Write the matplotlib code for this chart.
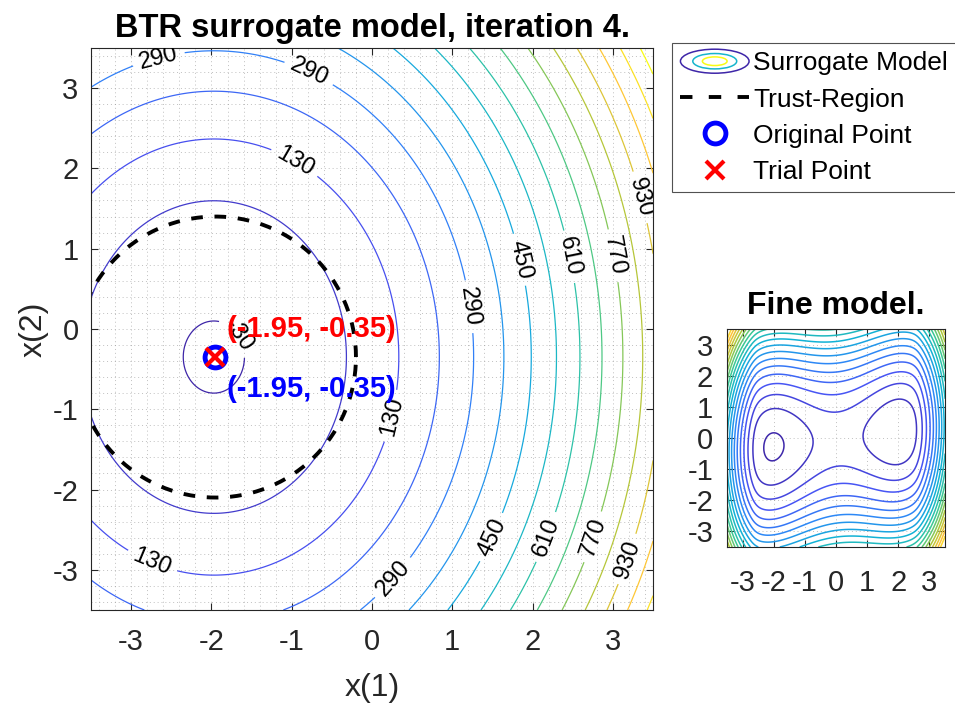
import numpy as np
import matplotlib
matplotlib.use("Agg")
import matplotlib.pyplot as plt
from matplotlib.colors import LinearSegmentedColormap, Normalize
from matplotlib.legend_handler import HandlerBase
from matplotlib.patches import Ellipse
from matplotlib.lines import Line2D
from matplotlib.ticker import MultipleLocator

plt.rcParams["font.family"] = ["Liberation Sans", "DejaVu Sans"]
plt.rcParams["axes.unicode_minus"] = False

# ---------------- data ----------------
axis_lim = (-3.5, 3.5)
tick_values = [-3, -2, -1, 0, 1, 2, 3]
tick_labels = ["-3", "-2", "-1", "0", "1", "2", "3"]

# quadratic surrogate model: f = f_min + cx*(x-x0)^2 + cy*(y-y0)^2
model_center = (-1.97, -0.35)
model_min = -34.5
model_curvature = (31.0, 22.3)
surrogate_levels = np.arange(-30, 1171, 80)
labelled_levels = surrogate_levels[::2]
plain_levels = surrogate_levels[1::2]
label_spots = [(-2.66, 3.38), (-0.79, 3.18), (-0.96, 2.08), (3.38, 1.65),
               (1.87, 0.87), (2.46, 0.90), (3.05, 0.92), (1.23, 0.28),
               (-1.72, -0.11), (0.27, -1.09), (1.50, -2.60), (2.19, -2.60),
               (2.78, -2.60), (3.22, -2.88), (-2.73, -2.88), (0.24, -3.08)]

trust_center = (-1.95, -0.35)
trust_radius = 1.75
original_point = (-1.95, -0.35)
trial_point = (-1.95, -0.35)

# fine model: double well in x(1), quadratic valley in x(2)
fine_well_k = 0.115
fine_tilt = 0.1
fine_ramp_start = 2.6
fine_ramp_slope = 4.5
fine_ramp_soft = 0.08
fine_valley_slope = 0.12
fine_valley_offset = -0.04
fine_levels = np.arange(0.2, 26.0, 1.3)

legend_labels = ["Surrogate Model", "Trust-Region", "Original Point", "Trial Point"]

# ---------------- colours ----------------
parula_anchors = [(0.2422, 0.1504, 0.6603), (0.2810, 0.3228, 0.9579),
                  (0.1786, 0.5289, 0.9682), (0.0689, 0.6948, 0.8394),
                  (0.2161, 0.7843, 0.5923), (0.6720, 0.7793, 0.2227),
                  (0.9970, 0.7659, 0.2199), (0.9769, 0.9839, 0.0805)]
parula = LinearSegmentedColormap.from_list("parula", parula_anchors)
axis_grey = (0.15, 0.15, 0.15)
dash_style = (0, (3.0, 3.0))
legend_dash = (0, (3.2, 4.2))

fig = plt.figure(figsize=(9.55, 7.05), dpi=100)
ax = fig.add_axes([0.0953, 0.1348, 0.5885, 0.7972])
axf = fig.add_axes([0.7613, 0.2241, 0.2283, 0.3092])


def style_axes(a, labelsize):
    a.set_xlim(*axis_lim)
    a.set_ylim(*axis_lim)
    a.set_xticks(tick_values)
    a.set_yticks(tick_values)
    a.set_xticklabels(tick_labels)
    a.set_yticklabels(tick_labels)
    a.tick_params(which="major", direction="in", length=5, width=0.8,
                  top=True, right=True, labelsize=labelsize,
                  color=axis_grey, labelcolor=axis_grey)
    a.tick_params(axis="x", pad=13)
    a.tick_params(axis="y", pad=9)
    for s in a.spines.values():
        s.set_color(axis_grey)
        s.set_linewidth(0.8)
    a.set_axisbelow(True)


# ---------------- surrogate model ----------------
g = np.linspace(axis_lim[0], axis_lim[1], 401)
X, Y = np.meshgrid(g, g)
Z = (model_min + model_curvature[0] * (X - model_center[0]) ** 2
     + model_curvature[1] * (Y - model_center[1]) ** 2)

style_axes(ax, 21)
ax.xaxis.set_minor_locator(MultipleLocator(0.2))
ax.yaxis.set_minor_locator(MultipleLocator(0.2))
ax.tick_params(which="minor", length=0)
ax.grid(True, which="both", linestyle=(0, (1, 3)), color="0.55",
        linewidth=0.7, alpha=0.55)

level_norm = Normalize(surrogate_levels.min(), surrogate_levels.max())
ax.contour(X, Y, Z, levels=plain_levels, cmap=parula, norm=level_norm,
           linewidths=0.9)
cs = ax.contour(X, Y, Z, levels=labelled_levels, cmap=parula, norm=level_norm,
                linewidths=0.9)
ax.clabel(cs, manual=label_spots, fontsize=17, inline=True,
          inline_spacing=7, fmt="%d", colors="k")

t = np.linspace(0, 2 * np.pi, 400)
ax.plot(trust_center[0] + trust_radius * np.cos(t),
        trust_center[1] + trust_radius * np.sin(t),
        color="k", linestyle=dash_style, linewidth=2.8)

ax.plot(*original_point, marker="o", linestyle="none", mfc="none", mec="b",
        ms=15, mew=3.5, zorder=5)
ax.plot(*trial_point, marker="x", linestyle="none", color="r",
        ms=13, mew=3, zorder=6)

ax.text(trial_point[0] + 0.14, trial_point[1] + 0.35,
        f"({trial_point[0]:.2f}, {trial_point[1]:.2f})", color="r",
        fontsize=21, fontweight="bold", ha="left", va="center", zorder=7)
ax.text(original_point[0] + 0.14, original_point[1] - 0.40,
        f"({original_point[0]:.2f}, {original_point[1]:.2f})", color="b",
        fontsize=21, fontweight="bold", ha="left", va="center", zorder=7)

ax.set_title("BTR surrogate model, iteration 4.", fontsize=23.5,
             fontweight="bold", pad=8)
ax.set_xlabel("x(1)", fontsize=23, color=axis_grey, labelpad=12)
ax.set_ylabel("x(2)", fontsize=23, color=axis_grey, labelpad=3)

# ---------------- fine model ----------------
gf = np.linspace(axis_lim[0], axis_lim[1], 301)
XF, YF = np.meshgrid(gf, gf)
ramp = fine_ramp_slope * fine_ramp_soft * np.log1p(
    np.exp((np.abs(XF) - fine_ramp_start) / fine_ramp_soft))
ZF = (fine_well_k * (XF ** 2 - 4) ** 2 + fine_tilt * (XF + 2) + ramp
      + (YF - (fine_valley_slope * XF + fine_valley_offset)) ** 2)

style_axes(axf, 21)
axf.tick_params(axis="y", pad=10)
axf.tick_params(axis="x", pad=16)
axf.grid(True, linestyle=(0, (1, 3)), color="0.55", linewidth=0.7, alpha=0.55)
axf.contour(XF, YF, ZF, levels=fine_levels, cmap=parula,
            norm=Normalize(ZF.min(), ZF.max()), linewidths=1.1)
axf.set_title("Fine model.", fontsize=23, fontweight="bold", pad=11)


# ---------------- legend ----------------
class ContourIcon:
    pass


class ContourIconHandler(HandlerBase):
    def create_artists(self, legend, orig_handle, xdescent, ydescent,
                       width, height, fontsize, trans):
        cx = width / 2 - xdescent
        cy = height / 2 - ydescent
        rings = [(1.0, parula(0.0)), (0.64, parula(0.45)), (0.36, parula(1.0))]
        out = []
        for frac, col in rings:
            e = Ellipse((cx, cy), width * frac, height * 1.3 * frac,
                        facecolor="none", edgecolor=col, linewidth=1.1,
                        transform=trans)
            out.append(e)
        return out


handles = [
    ContourIcon(),
    Line2D([], [], color="k", linestyle=legend_dash, linewidth=2.8),
    Line2D([], [], marker="o", linestyle="none", mfc="none", mec="b",
           ms=15, mew=3.5),
    Line2D([], [], marker="x", linestyle="none", color="r", ms=13, mew=3),
]
leg = fig.legend(handles, legend_labels,
                 handler_map={ContourIcon: ContourIconHandler()},
                 loc="upper left", bbox_to_anchor=(672 / 955, 1 - 43 / 705),
                 fontsize=19, frameon=True, fancybox=False,
                 edgecolor=axis_grey, handlelength=2.6, handletextpad=0.15,
                 labelspacing=0.46, borderpad=0.32, borderaxespad=0)
leg.get_frame().set_linewidth(0.8)

fig.savefig("out.png", dpi=100)
